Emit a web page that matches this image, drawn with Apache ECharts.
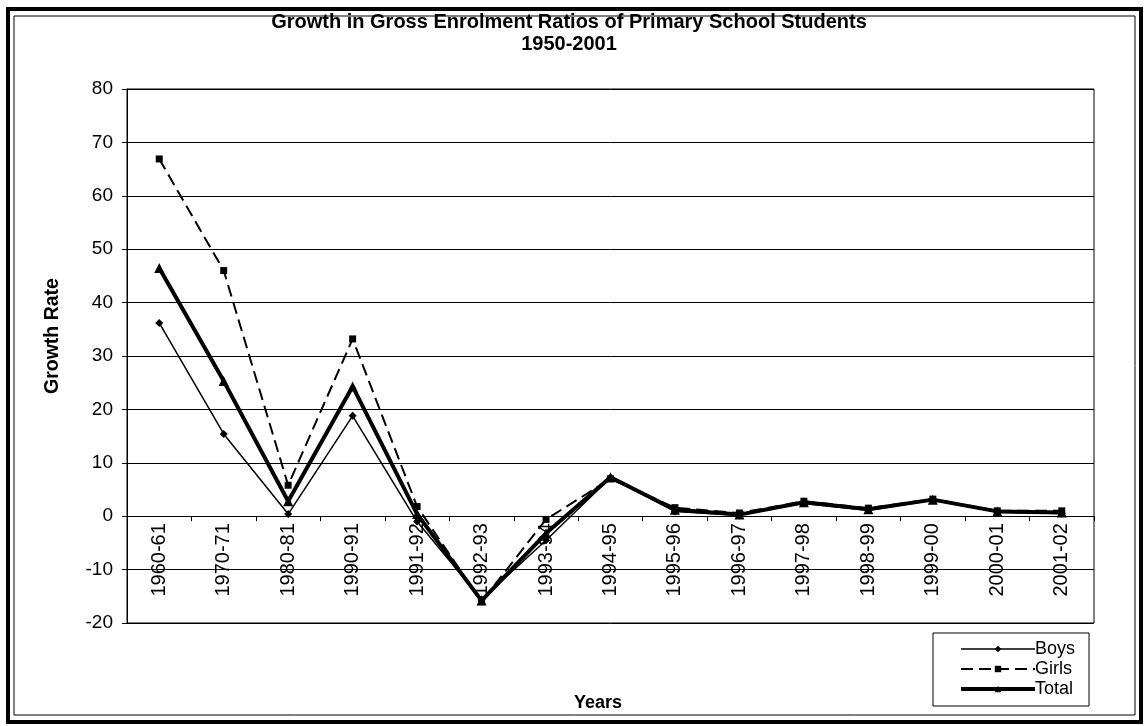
<!DOCTYPE html>
<html>
<head>
<meta charset="utf-8">
<script src="https://cdn.jsdelivr.net/npm/echarts@6/dist/echarts.min.js"></script>
<style>
  html, body { margin: 0; padding: 0; background: #fff; }
  #chart { width: 1147px; height: 726px; }
</style>
</head>
<body>
<div id="chart"></div>
<script>
// Academic years on the category axis
const years = ['1960-61', '1970-71', '1980-81', '1990-91', '1991-92', '1992-93', '1993-94',
  '1994-95', '1995-96', '1996-97', '1997-98', '1998-99', '1999-00', '2000-01', '2001-02'];

// Growth rate of gross enrolment ratio (%)
const boys  = [36.2, 15.4, 0.4, 18.8, -1.0, -15.6, -4.5, 7.2, 0.9, 0.2, 2.4, 1.1, 3.0, 0.8, 0.5];
const girls = [66.9, 46.0, 5.8, 33.2, 1.8, -16.0, -0.6, 7.0, 1.6, 0.6, 2.8, 1.5, 3.2, 1.0, 1.0];
const total = [46.5, 25.3, 2.8, 24.3, 0.4, -15.8, -3.2, 7.3, 1.2, 0.3, 2.6, 1.3, 3.1, 0.9, 0.7];

// Value axis range and step
const Y_MIN = -20, Y_MAX = 80, Y_STEP = 10;

const FONT = '"Liberation Sans", Arial, sans-serif';

// Plot area box
const GRID = { left: 127, right: 53, top: 89, bottom: 103 };
const CHART_H = 726;
const gridH = CHART_H - GRID.top - GRID.bottom;
// Lift the category axis from the bottom edge up to the zero line
const zeroOffset = -gridH * (0 - Y_MIN) / (Y_MAX - Y_MIN);

const chart = echarts.init(document.getElementById('chart'), null, { renderer: 'canvas' });

chart.setOption({
  backgroundColor: '#fff',
  animation: false,
  title: {
    text: 'Growth in Gross Enrolment Ratios of Primary School Students\n1950-2001',
    left: 564,
    top: 6,
    textAlign: 'center',
    textStyle: { fontFamily: FONT, fontSize: 20, fontWeight: 'bold', color: '#000', lineHeight: 22 }
  },
  legend: {
    orient: 'vertical',
    left: 933,
    top: 633,
    padding: [7, 14, 8, 26],
    itemGap: 2,
    itemWidth: 74,
    itemHeight: 8,
    borderColor: '#000',
    borderWidth: 1,
    backgroundColor: '#fff',
    textStyle: { fontFamily: FONT, fontSize: 18, color: '#000', padding: [0, 0, 0, -5] },
    data: [
      { name: 'Boys', lineStyle: { width: 1.5 } },
      { name: 'Girls', lineStyle: { width: 2 } },
      { name: 'Total', lineStyle: { width: 4 } }
    ]
  },
  grid: Object.assign({ show: true, borderColor: '#000', borderWidth: 1, containLabel: false }, GRID),
  xAxis: {
    type: 'category',
    data: years,
    boundaryGap: true,
    offset: zeroOffset,
    axisLine: { onZero: false, lineStyle: { color: '#000', width: 1 } },
    axisTick: { show: true, length: 5, lineStyle: { color: '#000' } },
    axisLabel: { rotate: 90, interval: 0, margin: 7, fontFamily: FONT, fontSize: 20, color: '#000' },
    splitLine: { show: false }
  },
  yAxis: {
    type: 'value',
    min: Y_MIN, max: Y_MAX, interval: Y_STEP,
    axisLine: { show: true, lineStyle: { color: '#000', width: 1 } },
    axisTick: { show: true, length: 5, lineStyle: { color: '#000' } },
    axisLabel: { margin: 14, fontFamily: FONT, fontSize: 19, color: '#000' },
    splitLine: { show: true, lineStyle: { color: '#000', width: 1 } }
  },
  graphic: [
    // double frame around the whole chart
    { type: 'rect', shape: { x: 8, y: 9, width: 1133, height: 713 },
      style: { fill: 'none', stroke: '#000', lineWidth: 4 }, silent: true },
    { type: 'rect', shape: { x: 14, y: 16, width: 1121, height: 699 },
      style: { fill: 'none', stroke: '#000', lineWidth: 1 }, silent: true },
    { type: 'text', x: 53, y: 336, rotation: Math.PI / 2,
      style: { text: 'Growth Rate', fontFamily: FONT, fontSize: 19.5, fontWeight: 'bold',
        fill: '#000', align: 'center', verticalAlign: 'middle' } },
    { type: 'text', x: 598, y: 703,
      style: { text: 'Years', fontFamily: FONT, fontSize: 18, fontWeight: 'bold',
        fill: '#000', align: 'center', verticalAlign: 'middle' } }
  ],
  series: [
    {
      name: 'Boys', type: 'line', data: boys,
      symbol: 'diamond', symbolSize: 8,
      lineStyle: { color: '#000', width: 1.5 },
      itemStyle: { color: '#000' }
    },
    {
      name: 'Girls', type: 'line', data: girls,
      symbol: 'rect', symbolSize: 7,
      lineStyle: { color: '#000', width: 2, type: [12, 6] },
      itemStyle: { color: '#000' }
    },
    {
      name: 'Total', type: 'line', data: total,
      symbol: 'triangle', symbolSize: 10,
      lineStyle: { color: '#000', width: 4 },
      itemStyle: { color: '#000' }
    }
  ]
});
</script>
</body>
</html>
